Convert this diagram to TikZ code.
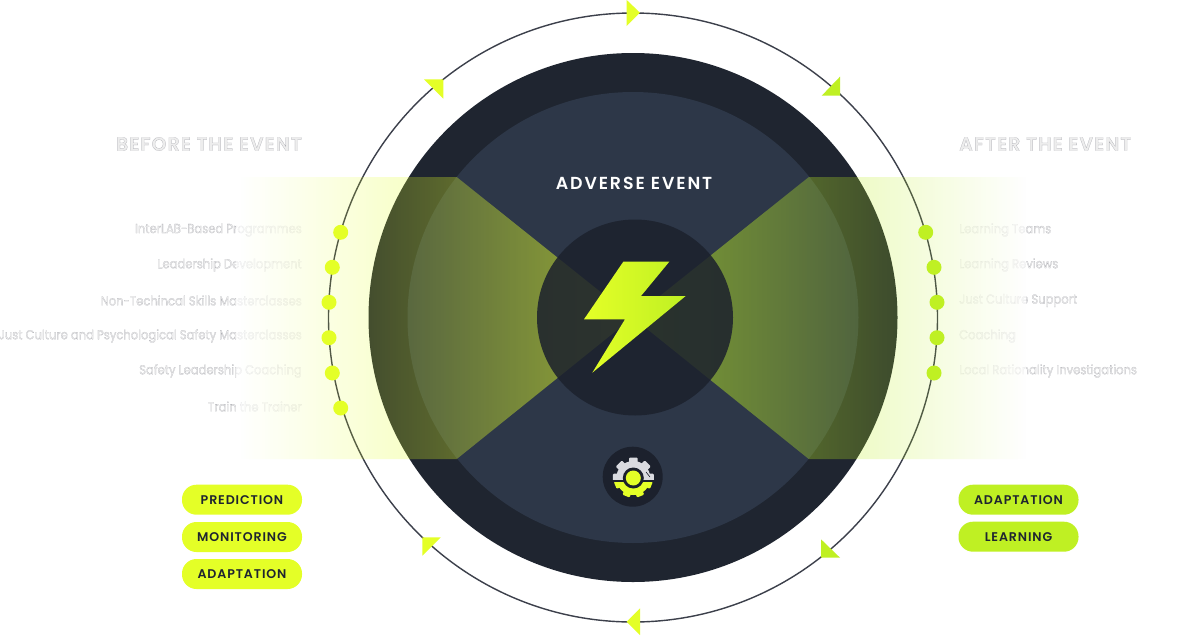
\documentclass[tikz,border=0pt]{standalone}
\usepackage{fontspec}
\setmainfont{Poppins}
\usetikzlibrary{fadings}
\newfontfamily\ghostfont[FakeBold=0.55,FakeStretch=0.89]{Poppins}
\newfontfamily\ghostheadfont[LetterSpace=5.6,FakeBold=0.8]{Poppins SemiBold}
\newfontfamily\pillfont[LetterSpace=7]{Poppins SemiBold}
\newfontfamily\titlefont[LetterSpace=11]{Poppins SemiBold}
\definecolor{limeL}{HTML}{E4FF27}
\definecolor{limeR}{HTML}{BFF023}
\definecolor{navyA}{HTML}{1F2530}
\definecolor{navyB}{HTML}{2D3748}
\definecolor{navyC}{HTML}{1C212D}
\definecolor{ringline}{HTML}{3C404B}
\definecolor{ghostgrey}{HTML}{A2A3AA}
\definecolor{geargrey}{HTML}{DADBE0}
% grey edge, near white inside
\newcommand{\ghostink}{\color{ghostgrey}\special{pdf:code 0.93 g}}
\tikzfading[name=bandfadeL, left color=transparent!100, right color=transparent!42]
\tikzfading[name=bandfadeR, left color=transparent!42, right color=transparent!100]
\begin{document}
\begin{tikzpicture}[
    x=1pt, y=-1pt,
    lblL/.style={font=\fontsize{13}{15}\ghostfont, anchor=east, inner sep=0pt},
    lblR/.style={font=\fontsize{13}{15}\ghostfont, anchor=west, inner sep=0pt},
    headtxt/.style={font=\fontsize{19}{22}\ghostheadfont, inner sep=0pt},
    pill/.style={rounded corners=14.5pt, minimum width=120pt, minimum height=30pt,
      inner sep=0pt, text=navyA, font=\fontsize{12.6}{14}\pillfont},
    dot/.style={circle, minimum size=15pt, inner sep=0pt},
  ]
    %% canvas
    \def\cx{633}
    \def\cy{317.5}
    \useasboundingbox (0,0) rectangle (1200,635);
    \fill[white] (0,0) rectangle (1200,635);

    %% --- left labels ---
    \node[headtxt, anchor=east] (headBefore) at (302,144) {\ghostink BEFORE THE EVENT};
    \node[lblL] (b1) at (302,230) {\ghostink InterLAB-Based Programmes};
    \node[lblL] (b2) at (302,265) {\ghostink Leadership Development};
    \node[lblL] (b3) at (302,300.5) {\ghostink Non-Techincal Skills Masterclasses};
    \node[lblL] (b4) at (302,336) {\ghostink Just Culture and Psychological Safety Masterclasses};
    \node[lblL] (b5) at (302,371) {\ghostink Safety Leadership Coaching};
    \node[lblL] (b6) at (302,406.5) {\ghostink Train the Trainer};

    %% --- right labels ---
    \node[headtxt, anchor=west] (headAfter) at (959,144) {\ghostink AFTER THE EVENT};
    \node[lblR] (a1) at (959,230) {\ghostink Learning Teams};
    \node[lblR] (a2) at (959,265) {\ghostink Learning Reviews};
    \node[lblR] (a3) at (959,300.5) {\ghostink Just Culture Support};
    \node[lblR] (a4) at (959,336) {\ghostink Coaching};
    \node[lblR] (a5) at (959,371) {\ghostink Local Rationality Investigations};

    %% --- veil: labels wash out inside the band ---
    \fill[white, opacity=0.68] (236,215) rectangle (306,420);
    \fill[white, opacity=0.68] (958,215) rectangle (1026,385);

    %% --- ring + discs ---
    \draw[ringline, line width=1.4pt] (\cx,\cy) circle (304.5);
    \fill[navyA] (\cx,\cy) circle (264.5);
    \fill[navyB] (\cx,\cy) circle (225.5);

    %% --- bands ---
    \fill[limeL, path fading=bandfadeL, fit fading=true]
      (240,177) -- (457,177) -- (\cx,\cy) -- (457,459) -- (240,459) -- cycle;
    \fill[limeR, path fading=bandfadeR, fit fading=true]
      (1026,177) -- (809,177) -- (\cx,\cy) -- (809,459) -- (1026,459) -- cycle;

    %% --- centre ---
    \fill[navyC, opacity=0.86] (635,317.5) circle (98);
    \node[font=\fontsize{17.4}{19}\titlefont, text=white, inner sep=0pt] (title) at (634,183.5) {ADVERSE EVENT};
    \shade[left color=limeL, right color=limeR]
      (623.3,261.7) -- (669.3,261.7) -- (641,296) -- (685.7,296)
      -- (592.3,372.7) -- (625,319.3) -- (584,319.3) -- cycle;

    %% --- gear badge ---
    \fill[navyC] (632.7,476.7) circle (30);
    \begin{scope}
      \clip (600,445) rectangle (666,479);
      \fill[geargrey] (633.3,478) circle (17);
      \foreach \a in {0,45,...,315}
        \fill[geargrey, rounded corners=1pt, rotate around={\a:(633.3,478)}] (629,457.5) rectangle (637.6,466);
    \end{scope}
    \draw[navyC, line width=0.6pt] (646,472) -- (650,477);
    \begin{scope}
      \clip (600,482) rectangle (666,510);
      \fill[limeL] (633.3,478) circle (17);
      \foreach \a in {112,158,202,248}
        \fill[limeL, rounded corners=1pt, rotate around={\a:(633.3,478)}] (629.5,458.5) rectangle (637.1,466);
    \end{scope}
    \fill[navyC] (633.3,478) circle (10.5);
    \fill[limeL] (633.3,478) circle (7.5);

    %% --- dots ---
    \foreach \n/\x/\y in {1/340.7/232.3,2/332.3/267.3,3/329/302.3,4/329/337.7,5/332.3/373,6/340.7/408}
      \node[dot, fill=limeL] (dotB\n) at (\x,\y) {};
    \foreach \n/\x/\y in {1/925.7/232.3,2/934/267.3,3/937/302.3,4/937/337.7,5/934/373}
      \node[dot, fill=limeR] (dotA\n) at (\x,\y) {};

    %% --- ring tips ---
    \fill[limeL] (626.7,0) -- (640,12.7) -- (626.7,26) -- cycle;
    \fill[limeL] (424,79.3) -- (443.3,79.3) -- (443.3,98.7) -- cycle;
    \fill[limeR] (840,76.7) -- (840,95.7) -- (821.7,95.7) -- cycle;
    \fill[limeL] (640,608.3) -- (626.7,621.7) -- (640,635) -- cycle;
    \fill[limeL] (422.3,537.3) -- (440.7,537.3) -- (422.3,555.7) -- cycle;
    \fill[limeR] (821,539.3) -- (840,557.7) -- (821,557.7) -- cycle;

    %% --- pills ---
    \node[pill, fill=limeL] (pPred) at (242,499.7) {PREDICTION};
    \node[pill, fill=limeL] (pMoni) at (242,537) {MONITORING};
    \node[pill, fill=limeL] (pAdap) at (242,574) {ADAPTATION};
    \node[pill, fill=limeR] (pAdapR) at (1018.5,499.7) {ADAPTATION};
    \node[pill, fill=limeR] (pLear) at (1018.5,536.7) {LEARNING};
  \end{tikzpicture}
\end{document}
